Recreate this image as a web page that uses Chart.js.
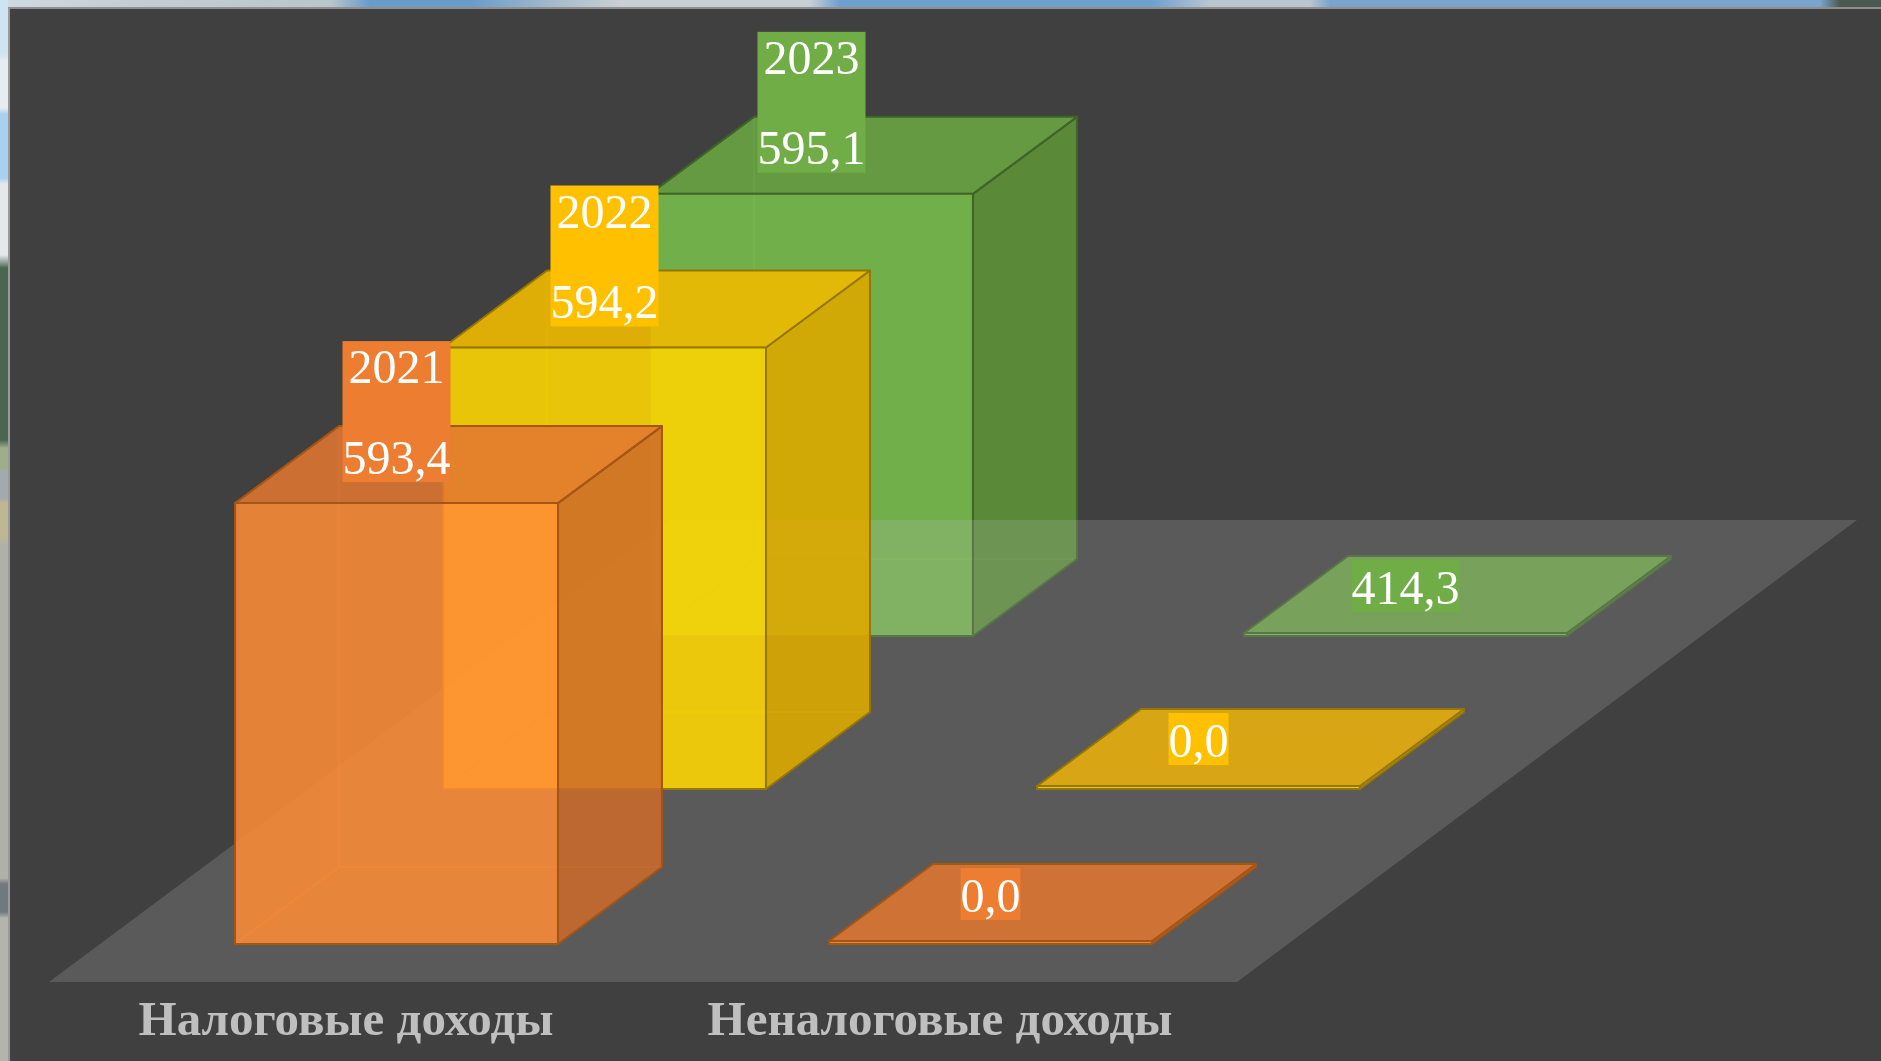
<!DOCTYPE html>
<html><head><meta charset="utf-8">
<script src="https://cdn.jsdelivr.net/npm/chart.js@4"></script>
<style>
html,body{margin:0;padding:0;width:1881px;height:1061px;overflow:hidden;background:#b0b0aa}
#top{position:absolute;left:0;top:0;width:1881px;height:8px;
 background:linear-gradient(90deg,#cfdbe2 0,#c4cfd5 120px,#b8c6cc 330px,#6a9bc9 370px,#6a9bc9 470px,#a9bdcc 560px,#c8d0d4 620px,#c8d0d4 810px,#6f9fcf 840px,#6f9fcf 1150px,#b9c6d0 1210px,#b9c6d0 1310px,#7ba4cc 1330px,#7ba4cc 1820px,#4a5a50 1840px,#4a5a50 1881px)}
#left{position:absolute;left:0;top:0;width:8px;height:1061px;
 background:linear-gradient(180deg,#cfe4f2 0,#cfe4f2 55px,#e6ecef 60px,#e6ecef 108px,#a9d0ee 114px,#a9d0ee 178px,#e4e8ea 184px,#e4e8ea 255px,#4a6650 268px,#4a6650 440px,#9fae8a 448px,#9fae8a 468px,#a4a9ad 472px,#a4a9ad 498px,#bdb892 503px,#bdb892 538px,#b0b0aa 545px,#b0b0aa 878px,#6f7a80 884px,#6f7a80 912px,#b4b4ae 918px,#b4b4ae 1061px)}
#panel{position:absolute;left:8px;top:7px;width:1873px;height:1054px;box-sizing:border-box;background:#404040;border-left:2px solid #9a9a9a;border-top:2px solid #8e8e8e}
canvas{position:absolute;left:0;top:0}
</style></head><body>
<div id="top"></div><div id="left"></div><div id="panel"></div>
<canvas id="c" width="1881" height="1061"></canvas>
<script>
const categories = ['Налоговые доходы', 'Неналоговые доходы'];
const seriesNames = ['2021', '2022', '2023'];
const values2021 = [593.4, 0.0];
const values2022 = [594.2, 0.0];
// The picture draws the 414,3 bar as a flat plate, so its plotted height is 0.4143 in the same unit.
const values2023 = [595.1, 0.4143];
const labels2021 = ['593,4', '0,0'];
const labels2022 = ['594,2', '0,0'];
const labels2023 = ['595,1', '414,3'];

const shift = [[50.5, -37], [258.5, -192], [465.5, -345]];
const depth = [104, -77];
const floorDepth = [620, -462];
const solid = ['#ED7D31', '#FFC000', '#70AD47'];
const front = ['rgba(255,141,55,.86)', 'rgba(251,212,2,.9)', 'rgba(121,193,77,.86)'];
const topFace = ['rgba(227,119,49,.86)', 'rgba(240,186,0,.9)', 'rgba(108,169,66,.86)'];
const plateTop = ['rgba(227,119,49,.86)', 'rgb(216,166,20)', 'rgba(108,169,66,.86)'];
const sideFace = ['rgba(205,107,42,.86)', 'rgba(219,169,0,.9)', 'rgba(94,150,53,.86)'];
const edge = ['rgb(165,85,20)', 'rgb(150,118,5)', 'rgb(62,100,40)'];
const inner = ['rgba(237,125,49,.3)', 'rgba(255,192,0,.25)', 'rgba(112,173,71,.35)'];
const allLabels = [labels2021, labels2022, labels2023];
const font = '48px "Liberation Serif"';

function poly(ctx, pts, fill, stroke, w) {
  ctx.beginPath();
  pts.forEach((p, i) => i ? ctx.lineTo(p[0], p[1]) : ctx.moveTo(p[0], p[1]));
  ctx.closePath();
  if (fill) { ctx.fillStyle = fill; ctx.fill(); }
  if (stroke) { ctx.strokeStyle = stroke; ctx.lineWidth = w; ctx.lineJoin = 'round'; ctx.stroke(); }
}
function line(ctx, a, b, c) {
  ctx.beginPath(); ctx.moveTo(a[0], a[1]); ctx.lineTo(b[0], b[1]);
  ctx.strokeStyle = c; ctx.lineWidth = 2; ctx.stroke();
}

const cubes = {
  id: 'cubes',
  beforeDatasetDraw(chart, args) {
    const ctx = chart.ctx, i = args.index, [ox, oy] = shift[i], [dx, dy] = depth;
    ctx.save();
    ctx.translate(ox, oy);
    for (const b of args.meta.data) {
      const l = b.x - b.width / 2 + 1, r = b.x + b.width / 2 - 1, t = b.y + 1, u = b.base - 1;
      const tall = u - t > 20;
      if (tall) {
        line(ctx, [l + dx, t + dy], [l + dx, u + dy], inner[i]);
        line(ctx, [l + dx, u + dy], [r + dx, u + dy], inner[i]);
        line(ctx, [l, u], [l + dx, u + dy], inner[i]);
      }
      poly(ctx, [[r, t], [r + dx, t + dy], [r + dx, u + dy], [r, u]], sideFace[i], edge[i], 2);
      poly(ctx, [[l, t], [l + dx, t + dy], [r + dx, t + dy], [r, t]], tall ? topFace[i] : plateTop[i], edge[i], 2);
    }
  },
  afterDatasetDraw(chart, args) {
    const ctx = chart.ctx;
    ctx.restore();
    if (args.index === 2) {
      const a = chart.chartArea, [fx, fy] = floorDepth;
      poly(ctx, [[a.left, a.bottom], [a.right, a.bottom], [a.right + fx, a.bottom + fy], [a.left + fx, a.bottom + fy]], 'rgba(191,191,191,.21)');
    }
  },
  afterDatasetsDraw(chart) {
    const ctx = chart.ctx;
    ctx.save();
    ctx.font = font;
    ctx.textAlign = 'center';
    ctx.textBaseline = 'alphabetic';
    for (let i = 2; i >= 0; i--) {
      chart.getDatasetMeta(i).data.forEach((b, j) => {
        const cx = b.x + shift[i][0], boxBottom = b.y + shift[i][1] - 20;
        const val = allLabels[i][j], withName = j === 0;
        const w = Math.max(ctx.measureText(val).width, withName ? ctx.measureText(seriesNames[i]).width : 0);
        const h = withName ? 141 : 52;
        ctx.fillStyle = solid[i];
        ctx.fillRect(cx - w / 2, boxBottom - h, w, h);
        ctx.fillStyle = '#fff';
        ctx.fillText(val, cx, boxBottom - 8.5);
        if (withName) ctx.fillText(seriesNames[i], cx, boxBottom - 99);
      });
    }
    ctx.restore();
  }
};

const mk = (i, data) => ({
  label: seriesNames[i], data, backgroundColor: front[i], borderColor: edge[i], borderWidth: 2,
  borderSkipped: false, clip: false, grouped: false, base: -0.0001,
  barPercentage: 0.547, categoryPercentage: 1, minBarLength: 5
});

new Chart(document.getElementById('c'), {
  type: 'bar',
  plugins: [cubes],
  data: { labels: categories, datasets: [mk(0, values2021), mk(1, values2022), mk(2, values2023)] },
  options: {
    responsive: false, animation: false,
    layout: { padding: { left: 49, right: 644, top: 8, bottom: 0 } },
    plugins: { legend: { display: false }, tooltip: { enabled: false } },
    scales: {
      x: {
        grid: { display: false, drawTicks: false }, border: { display: false },
        afterFit(s) { s.height = 79; },
        ticks: { color: '#BFBFBF', padding: 11, maxRotation: 0, font: { family: '"Liberation Serif"', size: 49, weight: 'bold' } }
      },
      y: { display: false, min: 0, max: 1305 }
    }
  }
});
</script>
</body></html>
